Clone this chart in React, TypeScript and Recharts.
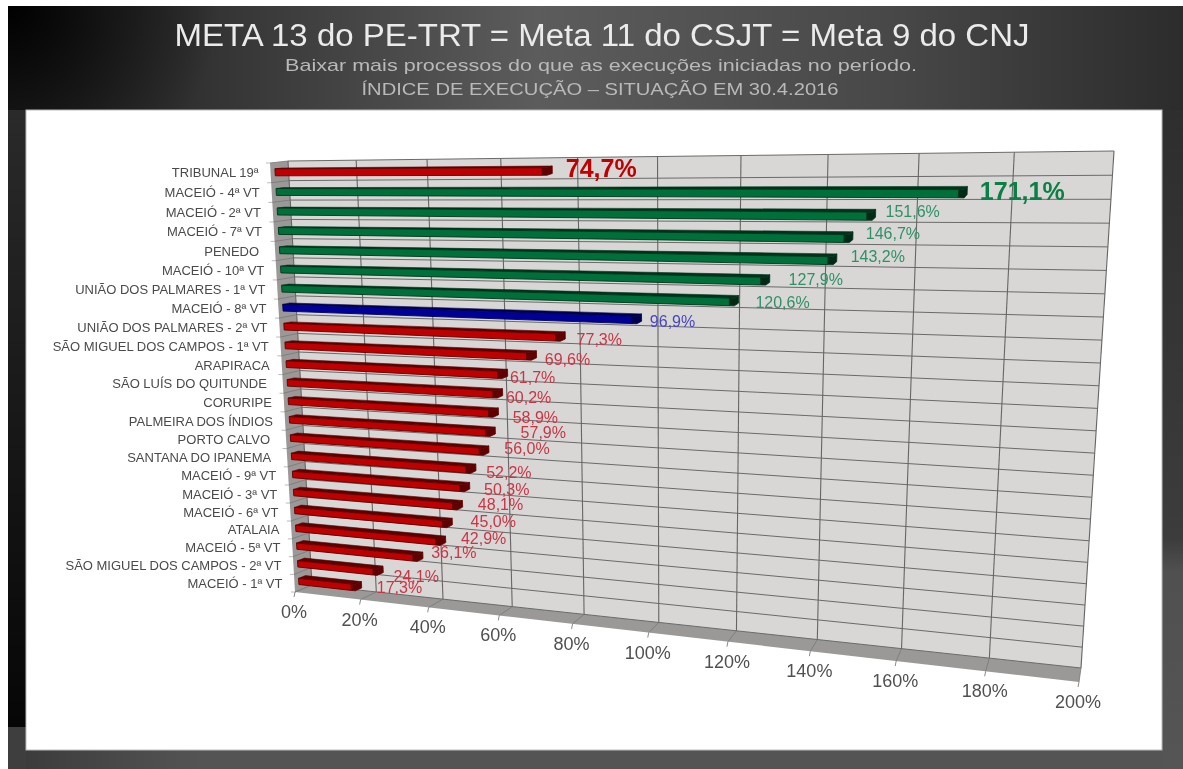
import React from 'react';
import { BarChart, Bar, XAxis, YAxis, CartesianGrid, LabelList } from 'recharts';

const categories = ['TRIBUNAL 19ª','MACEIÓ - 4ª VT','MACEIÓ - 2ª VT','MACEIÓ - 7ª VT','PENEDO ','MACEIÓ - 10ª VT','UNIÃO DOS PALMARES - 1ª VT','MACEIÓ - 8ª VT','UNIÃO DOS PALMARES - 2ª VT','SÃO MIGUEL DOS CAMPOS - 1ª VT','ARAPIRACA','SÃO LUÍS DO QUITUNDE ','CORURIPE','PALMEIRA DOS ÍNDIOS','PORTO CALVO ','SANTANA DO IPANEMA ','MACEIÓ - 9ª VT','MACEIÓ - 3ª VT','MACEIÓ - 6ª VT','ATALAIA','MACEIÓ - 5ª VT','SÃO MIGUEL DOS CAMPOS - 2ª VT','MACEIÓ - 1ª VT'];
const values = [74.7,171.1,151.6,146.7,143.2,127.9,120.6,96.9,77.3,69.6,61.7,60.2,58.9,57.9,56.0,52.2,50.3,48.1,45.0,42.9,36.1,24.1,17.3];
const tiers = ['r','g','g','g','g','g','g','b','r','r','r','r','r','r','r','r','r','r','r','r','r','r','r'];
const valueTicks = [0,20,40,60,80,100,120,140,160,180,200];

// Hand-placed label offsets of the original slide, relative to each bar's end
const labelDx = [49,55,37,40,41,46,44,31,34,31,25,26,37,48,38,33,37,38,41,38,31,33,38];
const labelDy = [-2,0,-2,-2,-1,1,3,4,4,5,5,5,6,2,-1,5,4,1,0,-1,-3,7,3];

const tierColors: Record<string,{front:string,dark:string,side:string,text:string}> = {
  r:{front:'#bf0000',dark:'#5e0000',side:'#600000',text:'#c93545'},
  g:{front:'#00703a',dark:'#00341a',side:'#002a16',text:'#2f9066'},
  b:{front:'#000099',dark:'#00004d',side:'#000050',text:'#4a44c0'},
};

const table = categories.map((name,i)=>({name,value:values[i],tier:tiers[i]}));

const W=1183,H=769;
const L=270,T=160,PW=830,PH=520;
type P=[number,number];
function homography(p0:P,p1:P,p2:P,p3:P){
  const [x0,y0]=p0,[x1,y1]=p1,[x2,y2]=p2,[x3,y3]=p3;
  const dx1=x1-x2,dx2=x3-x2,sx=x0-x1+x2-x3,dy1=y1-y2,dy2=y3-y2,sy=y0-y1+y2-y3;
  const den=dx1*dy2-dx2*dy1;
  const g=(sx*dy2-dx2*sy)/den,h=(dx1*sy-sx*dy1)/den;
  const a=x1-x0+g*x1,b=x3-x0+h*x3,d=y1-y0+g*y1,e=y3-y0+h*y3;
  return (u:number,v:number):P=>{const w=g*u+h*v+1;return [(a*u+b*v+x0)/w,(d*u+e*v+y0)/w];};
}
const frontH=homography([270,163],[1108,160],[1079,682],[295,592]);
const backH=homography([288,161],[1114,151],[1081,668],[312,585]);
const proj=(u:number,v:number,d:number):P=>{const f=frontH(u,v),b=backH(u,v);return [f[0]+(b[0]-f[0])*d,f[1]+(b[1]-f[1])*d];};
const uOf=(x:number)=>(x-L)/PW;
const vOf=(y:number)=>(y-T)/PH;
const pts=(a:P[])=>a.map(p=>`${p[0].toFixed(1)},${p[1].toFixed(1)}`).join(' ');
const rowEdges=categories.map((_,i)=>T+PH*i/categories.length).concat([T+PH]);
const D0=0.25,D1=0.65,CAP=5;

function BarBox(props:any){
  const {x,y,width,height,index}=props;
  const c=tierColors[tiers[index]];
  const u0=uOf(x),u1=uOf(x+width),uc=uOf(x+width-CAP),v0=vOf(y),v1=vOf(y+height);
  const fTL=proj(u0,v0,D0),fTR=proj(u1,v0,D0),fBR=proj(u1,v1,D0),fBL=proj(u0,v1,D0);
  const fTC=proj(uc,v0,D0),fBC=proj(uc,v1,D0);
  const bTL=proj(u0,v0,D1),bTR=proj(u1,v0,D1),bBR=proj(u1,v1,D1);
  return <g>
    <polygon points={pts([fTL,bTL,bTR,fTR])} fill={c.dark} stroke={c.dark} strokeWidth={0.6}/>
    <polygon points={pts([fTC,fTR,bTR,bBR,fBR,fBC])} fill={c.side} stroke={c.dark} strokeWidth={0.8}/>
    <polygon points={pts([fTL,fTC,fBC,fBL])} fill={c.front} stroke={c.dark} strokeWidth={0.9}/>
  </g>;
}

function ValueLabel(props:any){
  const {index,value}=props;
  const vb=props.viewBox||props;
  const x=vb.x,y=vb.y,width=vb.width,height=vb.height;
  const e=proj(uOf(x+width),vOf(y+height/2),D1);
  const big=index<2;
  return <text x={e[0]+labelDx[index]} y={e[1]+labelDy[index]} textAnchor="middle" dominantBaseline="central"
    fontSize={big?25:16} fontWeight={big?700:400} fontFamily="Liberation Sans"
    fill={big?(index===0?'#c00000':'#0a8046'):tierColors[tiers[index]].text}>
    {Number(value).toFixed(1).replace('.',',')+'%'}
  </text>;
}

function CatTick(props:any){
  const {y,payload}=props;
  const p=proj(0,vOf(y),0);
  const s=String(payload.value);
  const shift=s.endsWith(' ')?4:0;
  return <text x={p[0]-12-shift} y={p[1]} textAnchor="end" dominantBaseline="central" fontSize={13} fontFamily="Liberation Sans" fill="#4a4a4a">{s.trim()}</text>;
}
function ValTick(props:any){
  const {x,payload}=props;
  const p=proj(uOf(x),1,0);
  return <g>
    <line x1={p[0]} y1={p[1]} x2={p[0]-1} y2={p[1]+5} stroke="#8a8a8a"/>
    <text x={p[0]-1} y={p[1]+20} textAnchor="middle" dominantBaseline="central" fontSize={18} fontFamily="Liberation Sans" fill="#505050">{payload.value}%</text>
  </g>;
}
function HLine(props:any){
  const v=vOf(props.y1);
  const a=proj(0,v,1),b=proj(1,v,1),c=proj(0,v,0);
  return <g key={props.key}>
    <line x1={a[0]} y1={a[1]} x2={b[0]} y2={b[1]} stroke="#6a6a6a" strokeWidth={1}/>
    <line x1={a[0]} y1={a[1]} x2={c[0]} y2={c[1]} stroke="#777" strokeWidth={0.8}/>
    <line x1={c[0]} y1={c[1]} x2={c[0]-4} y2={c[1]} stroke="#aaa" strokeWidth={0.8}/>
  </g>;
}
function VLine(props:any){
  const u=uOf(props.x1);
  const a=proj(u,0,1),b=proj(u,1,1),c=proj(u,1,0);
  return <g key={props.key}>
    <line x1={a[0]} y1={a[1]} x2={b[0]} y2={b[1]} stroke="#666" strokeWidth={1.1}/>
    <line x1={b[0]} y1={b[1]} x2={c[0]} y2={c[1]} stroke="#777" strokeWidth={0.8}/>
  </g>;
}

function Backdrop(){
  const wall=[proj(0,0,1),proj(1,0,1),proj(1,1,1),proj(0,1,1)];
  const floor=[proj(0,1,1),proj(1,1,1),proj(1,1,0),proj(0,1,0)];
  const side=[proj(0,0,0),proj(0,0,1),proj(0,1,1),proj(0,1,0)];
  const titleStyle={fontFamily:'Liberation Sans',textAnchor:'middle' as const};
  return <svg width={W} height={H} style={{position:'absolute',left:0,top:0}}>
    <defs>
      <linearGradient id="band" x1="0" x2="1" y1="0" y2="0">
        <stop offset="0" stopColor="#262626"/><stop offset="0.15" stopColor="#303030"/>
        <stop offset="0.45" stopColor="#5c5c5c"/><stop offset="0.75" stopColor="#484848"/><stop offset="1" stopColor="#2c2c2c"/>
      </linearGradient>
      <radialGradient id="corner" gradientUnits="userSpaceOnUse" cx={8} cy={6} r={210}>
        <stop offset="0" stopColor="#000" stopOpacity={1}/><stop offset="1" stopColor="#000" stopOpacity={0}/>
      </radialGradient>
      <linearGradient id="lstrip" x1="0" x2="0" y1="0" y2="1">
        <stop offset="0" stopColor="#2a2a2a"/><stop offset="1" stopColor="#060606"/>
      </linearGradient>
      <linearGradient id="rstrip" x1="0" x2="0" y1="0" y2="1">
        <stop offset="0" stopColor="#2e2e2e"/><stop offset="0.65" stopColor="#3c3c3c"/><stop offset="0.7" stopColor="#505050"/><stop offset="1" stopColor="#555"/>
      </linearGradient>
      <linearGradient id="bstrip" x1="0" x2="1" y1="0" y2="0">
        <stop offset="0" stopColor="#3c3c3c"/><stop offset="0.15" stopColor="#545454"/><stop offset="1" stopColor="#545454"/>
      </linearGradient>
    </defs>
    <rect x={8} y={6} width={1175} height={763} fill="url(#band)"/>
    <rect x={8} y={6} width={300} height={104} fill="url(#corner)"/>
    <rect x={8} y={110} width={18} height={617} fill="url(#lstrip)"/>
    <rect x={8} y={727} width={18} height={42} fill="#3e3e3e"/>
    <rect x={26} y={750} width={1157} height={19} fill="url(#bstrip)"/>
    <rect x={1162} y={110} width={21} height={659} fill="url(#rstrip)"/>
    <rect x={26} y={110} width={1136} height={640} fill="#fff" stroke="#bbb" strokeWidth={1}/>
    <text x={602} y={46} fontSize={31} fill="#ebebeb" textLength={855} lengthAdjust="spacingAndGlyphs" style={titleStyle}>META 13 do PE-TRT = Meta 11 do CSJT = Meta 9 do CNJ</text>
    <text x={601} y={71} fontSize={17} fill="#b9b9b9" textLength={632} lengthAdjust="spacingAndGlyphs" style={titleStyle}>Baixar mais processos do que as execuções iniciadas no período.</text>
    <text x={600} y={95} fontSize={17} fill="#b9b9b9" textLength={477} lengthAdjust="spacingAndGlyphs" style={titleStyle}>ÍNDICE DE EXECUÇÃO – SITUAÇÃO EM 30.4.2016</text>
    <polygon points={pts(wall)} fill="#d8d7d6"/>
    <polygon points={pts(floor)} fill="#9a9998"/>
    <polygon points={pts(side)} fill="#9a9998"/>
  </svg>;
}

export default function App(){
  return <div style={{position:'absolute',left:0,top:0,width:W,height:H,filter:'blur(0.6px)'}}>
    <Backdrop/>
    <div style={{position:'absolute',left:0,top:0}}>
      <BarChart width={W} height={H} data={table} layout="vertical" barCategoryGap="32%"
        margin={{left:L-1,top:T,right:W-L-PW,bottom:H-T-PH-1}}>
        <CartesianGrid horizontal={HLine as any} vertical={VLine as any} horizontalPoints={rowEdges}/>
        <XAxis type="number" dataKey="value" domain={[0,200]} ticks={valueTicks} height={1} axisLine={false} tickLine={false} tick={ValTick as any} interval={0}/>
        <YAxis type="category" dataKey="name" width={1} axisLine={false} tickLine={false} tick={CatTick as any} interval={0}/>
        <Bar dataKey="value" isAnimationActive={false} shape={BarBox as any}>
          <LabelList dataKey="value" content={ValueLabel as any}/>
        </Bar>
      </BarChart>
    </div>
  </div>;
}
